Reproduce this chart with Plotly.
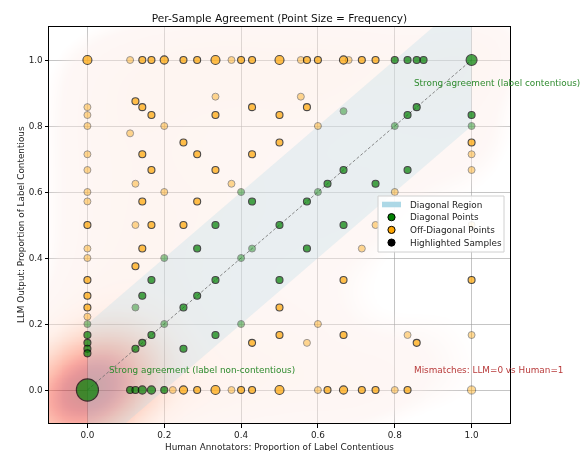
import numpy as np
import plotly.graph_objects as go

# ---------------------------------------------------------------------------
# Per-sample agreement data: proportion of human annotators vs. LLM outputs
# that mark a label as contentious, how often each pair occurs, and whether
# the sample is one of the highlighted ones.
# ---------------------------------------------------------------------------
human_prop = [
    # LLM = 1.0
    0, 1/9, 1/7, 1/6, 0.2, 0.25, 2/7, 1/3, 3/8, 0.4, 3/7, 0.5, 5/9, 4/7, 0.6,
    2/3, 0.68, 5/7, 0.75, 0.8, 5/6, 6/7, 7/8, 1,
    # human = 0
    0, 0, 0, 0, 0, 0, 0, 0, 0, 0, 0, 0, 0, 0, 0, 0, 0, 0, 0, 0,
    # human = 1
    1, 1, 1, 1, 1, 1, 1, 1,
    # LLM = 0
    1/9, 1/8, 1/7, 1/6, 0.2, 2/9, 0.25, 2/7, 1/3, 3/8, 0.4, 3/7, 0.5, 0.6,
    5/8, 2/3, 5/7, 0.75, 0.8, 5/6, 1,
    # interior
    1/8, 1/7, 1/6, 1/9, 0.2, 0.25, 1/7, 2/7, 1/6, 1/3, 1/3, 1/3, 3/7, 0.5,
    0.5, 3/7, 1/8, 0.2, 3/8, 0.4, 3/7, 1/7, 2/7, 5/9, 4/7, 2/3, 5/6, 6/7,
    0.6, 0.8, 2/3, 5/6, 5/8, 0.75, 0.6, 0.8, 4/7, 1/8, 1/6, 0.25, 1/3, 0.5,
    2/3, 0.75, 1/7, 2/7, 3/7, 4/7, 5/7, 0.2, 0.4, 1/8, 1/6, 1/3, 0.5, 2/3,
    1/7, 2/7, 1/8, 0.25, 0.5, 0.2, 0.4, 0.6, 1/6, 1/3, 0.5, 2/3, 5/6, 1/7,
    3/7, 4/7, 6/7, 1/8, 0.25,
]
llm_prop = [
    1, 1, 1, 1, 1, 1, 1, 1, 1, 1, 1, 1, 1, 1, 1,
    1, 1, 1, 1, 1, 1, 1, 1, 1,
    6/7, 5/6, 0.8, 5/7, 2/3, 0.6, 4/7, 0.5, 3/7, 0.4, 1/3, 2/7, 0.25, 2/9,
    0.2, 1/6, 1/7, 1/8, 1/9, 0,
    5/6, 0.8, 0.75, 5/7, 2/3, 0.5, 1/3, 1/6,
    0, 0, 0, 0, 0, 0, 0, 0, 0, 0, 0, 0, 0, 0,
    0, 0, 0, 0, 0, 0, 0,
    7/8, 6/7, 5/6, 7/9, 0.8, 0.75, 5/7, 5/7, 2/3, 2/3, 8/9, 5/6, 6/7, 5/6,
    0.75, 5/7, 5/8, 0.6, 5/8, 0.6, 4/7, 4/7, 4/7, 8/9, 6/7, 0.845, 5/6, 6/7,
    0.8, 0.8, 2/3, 2/3, 5/8, 5/8, 0.6, 0.6, 4/7, 0.5, 0.5, 0.5, 0.5, 0.5,
    0.5, 0.5, 3/7, 3/7, 3/7, 3/7, 3/7, 0.4, 0.4, 3/8, 1/3, 1/3, 1/3, 1/3,
    2/7, 2/7, 0.25, 0.25, 0.25, 0.2, 0.2, 0.2, 1/6, 1/6, 1/6, 1/6, 1/6, 1/7,
    1/7, 1/7, 1/7, 1/8, 1/8,
]
frequency = [
    3, 1, 1, 1, 2, 1, 1, 3, 1, 1, 1, 3, 1, 1, 1,
    2, 1, 1, 1, 1, 1, 1, 1, 7,
    1, 1, 1, 1, 1, 1, 1, 1, 1, 1, 1, 1, 1, 1, 1, 1, 1, 1, 1, 150,
    1, 1, 1, 1, 1, 1, 1, 1,
    1, 1, 2, 2, 1, 1, 2, 1, 3, 1, 1, 1, 3, 1,
    1, 2, 1, 1, 1, 1, 2,
    1, 1, 1, 1, 1, 1, 1, 1, 1, 1, 1, 1, 1, 1,
    1, 1, 1, 1, 1, 1, 1, 1, 1, 1, 1, 1, 1, 1,
    1, 1, 1, 1, 1, 1, 1, 1, 1, 1, 1, 1, 1, 1,
    1, 1, 1, 1, 1, 1, 1, 1, 1, 1, 1, 1, 1, 1,
    1, 1, 1, 1, 1, 1, 1, 1, 1, 1, 1, 1, 1, 1,
    1, 1, 1, 1, 1,
]
highlighted = [
    1, 0, 1, 1, 1, 1, 1, 1, 0, 1, 1, 1, 0, 1, 1,
    1, 0, 1, 1, 1, 1, 1, 1, 1,
    0, 0, 0, 0, 0, 0, 0, 1, 0, 0, 1, 1, 1, 0, 0, 1, 1, 1, 1, 1,
    1, 0, 1, 0, 0, 0, 1, 0,
    1, 1, 1, 1, 1, 0, 1, 1, 1, 0, 1, 1, 1, 0,
    1, 1, 1, 1, 0, 1, 0,
    1, 1, 1, 0, 0, 1, 1, 1, 1, 1, 0, 1, 1, 1,
    1, 1, 0, 0, 0, 0, 1, 1, 1, 0, 1, 0, 1, 1,
    0, 0, 1, 1, 1, 1, 0, 0, 1, 0, 1, 1, 1, 1,
    1, 0, 1, 1, 0, 1, 0, 0, 0, 1, 1, 1, 1, 1,
    1, 1, 0, 1, 1, 0, 0, 0, 1, 1, 1, 1, 0, 1,
    1, 0, 1, 1, 1,
]

AXIS_RANGE = [-0.1, 1.1]
TICK_VALUES = [0.0, 0.2, 0.4, 0.6, 0.8, 1.0]
TICK_LABELS = ["0.0", "0.2", "0.4", "0.6", "0.8", "1.0"]
DIAG_TOLERANCE = 0.2

TITLE = "Per-Sample Agreement (Point Size = Frequency)"
X_LABEL = "Human Annotators: Proportion of Label Contentious"
Y_LABEL = "LLM Output: Proportion of Label Contentious"
LEGEND_LABELS = ["Diagonal Region", "Diagonal Points", "Off-Diagonal Points",
                 "Highlighted Samples"]

FONT = "DejaVu Sans"
GREEN = "#008000"
ORANGE = "#FFA500"
KDE_ALPHA = 0.45
# kernel widths along and across the agreement diagonal
SIGMA_ALONG = 0.12
SIGMA_ACROSS = 0.09

h = np.asarray(human_prop, float)
l = np.asarray(llm_prop, float)
f = np.asarray(frequency, float)
hl = np.asarray(highlighted, bool)
on_diag = np.abs(h - l) <= DIAG_TOLERANCE

# ---------------------------------------------------------------------------
# Frequency-weighted Gaussian KDE, kernel aligned with the diagonal, filled
# from the 5 % mass threshold upward
# ---------------------------------------------------------------------------
va, vc = SIGMA_ALONG ** 2, SIGMA_ACROSS ** 2
kcov = np.array([[(va + vc) / 2, (va - vc) / 2],
                 [(va - vc) / 2, (va + vc) / 2]])
kinv = np.linalg.inv(kcov)

grid = np.linspace(AXIS_RANGE[0], AXIS_RANGE[1], 241)
GX, GY = np.meshgrid(grid, grid)
dx = GX[..., None] - h
dy = GY[..., None] - l
quad = kinv[0, 0] * dx * dx + 2 * kinv[0, 1] * dx * dy + kinv[1, 1] * dy * dy
dens = (f * np.exp(-0.5 * quad)).sum(axis=-1)

flat = np.sort(dens.ravel())
cmass = np.cumsum(flat)
cmass /= cmass[-1]
thresh_level = float(np.interp(0.05, cmass, flat))
zmax = float(dens.max())
ZMIN = -0.012
zval = np.clip((dens - thresh_level) / (zmax - thresh_level), ZMIN, 1)

# faint wash for the lowest level, then the Reds ramp up to dark red
KDE_COLORS = ["#fdeeea", "#fee0d2", "#fcbba1", "#fc9272", "#fb6a4a",
              "#ef3b2c", "#cb181d", "#a50f15"]
KDE_STOPS = [0.0, 0.1, 0.24, 0.38, 0.52, 0.66, 0.82, 1.0]


def rgba(hexcol, a):
    return "rgba(%d,%d,%d,%.3f)" % (int(hexcol[1:3], 16), int(hexcol[3:5], 16),
                                    int(hexcol[5:7], 16), a)


t0 = -ZMIN / (1 - ZMIN)
scale = [[0.0, "rgba(253,238,234,0)"]]
for s, c in zip(KDE_STOPS, KDE_COLORS):
    scale.append([t0 + (1 - t0) * s, rgba(c, KDE_ALPHA)])
scale[-1][0] = 1.0

fig = go.Figure()
fig.add_trace(go.Heatmap(
    x=grid, y=grid, z=zval, zmin=ZMIN, zmax=1, colorscale=scale,
    zsmooth="best", showscale=False, hoverinfo="skip"))

# diagonal agreement band |LLM - human| <= tolerance
band_x = [0, 1, 1, 0, 0]
band_y = [-DIAG_TOLERANCE, 1 - DIAG_TOLERANCE, 1 + DIAG_TOLERANCE, DIAG_TOLERANCE,
          -DIAG_TOLERANCE]
fig.add_trace(go.Scatter(
    x=band_x, y=band_y, fill="toself", mode="none",
    fillcolor="rgba(173,216,230,0.25)", hoverinfo="skip", showlegend=False))

# identity line
fig.add_trace(go.Scatter(
    x=[0, 1], y=[0, 1], mode="lines", hoverinfo="skip", showlegend=False,
    line=dict(color="rgba(110,110,110,0.8)", width=1, dash="3px,2px")))

# marker diameter grows slowly with frequency
size = 7.0 * f ** 0.23
colors = np.where(on_diag, GREEN, ORANGE)

for mask, op, lw in [(~hl, 0.6, 0.9), (hl, 1.0, 1.1)]:
    fig.add_trace(go.Scatter(
        x=h[mask], y=l[mask], mode="markers", showlegend=False,
        opacity=op,
        marker=dict(size=size[mask], color=colors[mask],
                    line=dict(color="black", width=lw))))

# ---------------------------------------------------------------------------
# Layout
# ---------------------------------------------------------------------------
W, H = 585, 451
ML, MR, MT, MB = 49, 75, 27, 28
PW, PH = W - ML - MR, H - MT - MB


def px(xp):
    return (xp - ML) / PW


def py(yp):
    return (H - MB - yp) / PH


axis = dict(range=AXIS_RANGE, tickvals=TICK_VALUES, ticktext=TICK_LABELS,
            showgrid=True, gridcolor="rgba(150,150,150,0.55)", gridwidth=1,
            zeroline=False, showline=True, linecolor="black", linewidth=1,
            mirror=True, ticks="outside", ticklen=3.5, tickwidth=0.8,
            tickcolor="black", tickfont=dict(size=8.85, color="#222"))

fig.update_layout(
    width=W, height=H,
    margin=dict(l=ML, r=MR, t=MT, b=MB),
    paper_bgcolor="white", plot_bgcolor="white",
    font=dict(family=FONT, color="#222"),
    showlegend=False,
    xaxis=axis, yaxis=axis,
    title=dict(text=TITLE, x=0.5, xref="paper", xanchor="center",
               y=1 - 18 / H, yanchor="middle",
               font=dict(size=10.6, color="#111")),
)

annotations = [
    dict(text=X_LABEL, x=0.5, y=py(447), xref="paper", yref="paper",
         showarrow=False, font=dict(size=8.85, color="#222"),
         xanchor="center", yanchor="middle"),
    dict(text=Y_LABEL, x=px(21), y=0.5, xref="paper", yref="paper",
         showarrow=False, textangle=-90, font=dict(size=8.85, color="#222"),
         xanchor="center", yanchor="middle"),
    dict(text="Strong agreement (label non-contentious)", x=0.05, y=0.06,
         xref="x", yref="y", showarrow=False, xanchor="left", yanchor="middle",
         font=dict(size=8.85, color="#2e8b2e")),
    dict(text="Strong agreement (label contentious)", x=0.845, y=0.93,
         xref="x", yref="y", showarrow=False, xanchor="left", yanchor="middle",
         font=dict(size=8.85, color="#2e8b2e")),
    dict(text="Mismatches: LLM=0 vs Human=1", x=0.845, y=0.06,
         xref="x", yref="y", showarrow=False, xanchor="left", yanchor="middle",
         font=dict(size=8.85, color="#b83a3a")),
]

# legend box
shapes = [dict(type="rect", xref="paper", yref="paper",
               x0=px(378), x1=px(504), y0=py(252), y1=py(196),
               fillcolor="rgba(255,255,255,0.85)",
               line=dict(color="#d0d0d0", width=1), layer="above")]
rows = [204.5, 217.2, 229.9, 242.6]
shapes.append(dict(type="rect", xref="paper", yref="paper",
                   x0=px(382), x1=px(401), y0=py(207.3), y1=py(201.7),
                   fillcolor="#add8e6", line=dict(width=0), layer="above"))
for yy, colr in zip(rows[1:], [GREEN, ORANGE, "black"]):
    shapes.append(dict(type="circle", xref="paper", yref="paper",
                       xsizemode="pixel", ysizemode="pixel",
                       xanchor=px(391.5), yanchor=py(yy),
                       x0=-3.6, x1=3.6, y0=-3.6, y1=3.6,
                       fillcolor=colr, line=dict(color="black", width=1),
                       layer="above"))
for yy, lab in zip(rows, LEGEND_LABELS):
    annotations.append(dict(text=lab, x=px(408), y=py(yy), xref="paper",
                            yref="paper", showarrow=False, xanchor="left",
                            yanchor="middle",
                            font=dict(size=8.85, color="#222")))

fig.update_layout(annotations=annotations, shapes=shapes)
fig.write_html("out.html")
